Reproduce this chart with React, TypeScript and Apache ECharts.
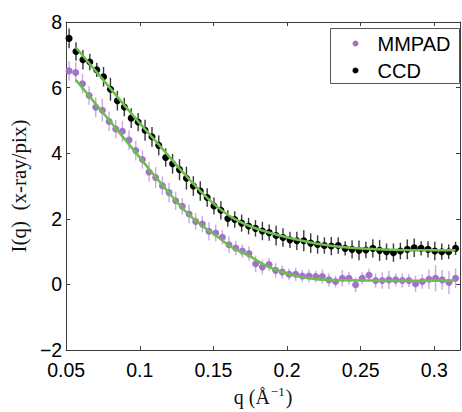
import React, { useEffect, useRef } from "react";
import * as echarts from "echarts";

// CCD data
const qCCD = [
  0.0520, 0.0567, 0.0614, 0.0661, 0.0708, 0.0754, 0.0801, 0.0848, 0.0895, 0.0942,
  0.0989, 0.1036, 0.1083, 0.1129, 0.1176, 0.1223, 0.1270, 0.1317, 0.1364, 0.1411,
  0.1458, 0.1504, 0.1551, 0.1598, 0.1645, 0.1692, 0.1739, 0.1786, 0.1833, 0.1879,
  0.1926, 0.1973, 0.2020, 0.2067, 0.2114, 0.2161, 0.2208, 0.2254, 0.2301, 0.2348,
  0.2395, 0.2442, 0.2489, 0.2536, 0.2583, 0.2629, 0.2676, 0.2723, 0.2770, 0.2817,
  0.2864, 0.2911, 0.2958, 0.3004, 0.3051, 0.3098, 0.3145,
];
const iCCD = [
  7.50, 7.10, 6.85, 6.78, 6.54, 6.33, 5.95, 5.60, 5.41, 5.07,
  4.95, 4.70, 4.50, 4.24, 3.87, 3.68, 3.50, 3.24, 3.00, 2.85,
  2.65, 2.39, 2.26, 2.01, 1.98, 1.87, 1.78, 1.71, 1.63, 1.58,
  1.49, 1.43, 1.36, 1.33, 1.33, 1.26, 1.22, 1.19, 1.17, 1.19,
  1.10, 1.07, 1.04, 1.05, 1.10, 1.04, 1.00, 0.97, 1.02, 1.07,
  1.12, 1.10, 1.07, 1.02, 1.00, 1.00, 1.10,
];
const eCCD = [
  0.30, 0.28, 0.30, 0.25, 0.22, 0.30, 0.35, 0.30, 0.28, 0.30,
  0.28, 0.32, 0.30, 0.30, 0.28, 0.30, 0.32, 0.35, 0.30, 0.30,
  0.28, 0.26, 0.28, 0.25, 0.25, 0.26, 0.25, 0.25, 0.28, 0.25,
  0.30, 0.28, 0.25, 0.28, 0.32, 0.30, 0.28, 0.25, 0.28, 0.25,
  0.22, 0.28, 0.30, 0.25, 0.28, 0.32, 0.25, 0.28, 0.25, 0.30,
  0.28, 0.22, 0.25, 0.28, 0.25, 0.22, 0.20,
];

// MMPAD data
const qMMPAD = [
  0.0520, 0.0565, 0.0611, 0.0656, 0.0701, 0.0746, 0.0792, 0.0837, 0.0882, 0.0927,
  0.0973, 0.1018, 0.1063, 0.1108, 0.1154, 0.1199, 0.1244, 0.1289, 0.1335, 0.1380,
  0.1425, 0.1470, 0.1516, 0.1561, 0.1606, 0.1652, 0.1697, 0.1742, 0.1787, 0.1833,
  0.1878, 0.1923, 0.1968, 0.2014, 0.2059, 0.2104, 0.2149, 0.2195, 0.2240, 0.2285,
  0.2330, 0.2376, 0.2421, 0.2466, 0.2511, 0.2557, 0.2602, 0.2647, 0.2692, 0.2738,
  0.2783, 0.2828, 0.2873, 0.2919, 0.2964, 0.3009, 0.3054, 0.3100, 0.3145,
];
const iMMPAD = [
  6.51, 6.46, 6.12, 5.76, 5.40, 5.31, 4.97, 4.74, 4.67, 4.40,
  4.08, 3.81, 3.43, 3.26, 3.01, 2.80, 2.55, 2.38, 2.15, 1.92,
  1.84, 1.62, 1.57, 1.44, 1.21, 1.11, 1.02, 0.94, 0.63, 0.53,
  0.61, 0.43, 0.38, 0.31, 0.31, 0.26, 0.26, 0.24, 0.24, 0.14,
  0.09, 0.19, 0.19, -0.01, 0.19, 0.28, 0.12, 0.12, 0.14, 0.14,
  0.12, 0.12, 0.02, 0.09, 0.16, 0.19, 0.14, 0.06, 0.19,
];
const eMMPAD = [
  0.30, 0.32, 0.30, 0.28, 0.30, 0.35, 0.30, 0.28, 0.32, 0.30,
  0.30, 0.28, 0.30, 0.32, 0.28, 0.30, 0.28, 0.25, 0.28, 0.25,
  0.25, 0.28, 0.25, 0.22, 0.25, 0.22, 0.20, 0.22, 0.25, 0.22,
  0.20, 0.22, 0.20, 0.18, 0.20, 0.18, 0.20, 0.18, 0.22, 0.20,
  0.18, 0.25, 0.20, 0.22, 0.18, 0.20, 0.22, 0.25, 0.28, 0.20,
  0.22, 0.20, 0.25, 0.22, 0.30, 0.40, 0.30, 0.35, 0.30,
];

// Fitted curves
const qFitCCD = [0.0565, 0.0749, 0.0951, 0.1153, 0.1321, 0.1422, 0.1523, 0.1631, 0.1758, 0.1893, 0.2095, 0.2297, 0.2532, 0.2768, 0.3145];
const iFitCCD = [7.23, 6.25, 5.17, 4.14, 3.28, 2.80, 2.38, 2.03, 1.76, 1.56, 1.34, 1.18, 1.09, 1.05, 1.04];
const qFitMMPAD = [0.0565, 0.0749, 0.0951, 0.1085, 0.1220, 0.1321, 0.1422, 0.1523, 0.1631, 0.1745, 0.1853, 0.1967, 0.2081, 0.2196, 0.2304, 0.2532, 0.2768, 0.3145];
const iFitMMPAD = [6.24, 5.24, 4.14, 3.40, 2.68, 2.18, 1.80, 1.47, 1.12, 0.87, 0.58, 0.38, 0.24, 0.16, 0.14, 0.12, 0.11, 0.12];

const seriesNames = ["MMPAD", "CCD"];
const xMin = 0.05;
const xMax = 0.3175;
const xStep = 0.05;
const yMin = -2;
const yMax = 8;
const yStep = 2;

const PURPLE = "#a274c9";
const PURPLE_ERR = "#c9a8e3";
const BLACK = "#000000";
const BLACK_ERR = "#3a3a3a";
const GREEN = "#6cbf4a";
const SANS = "'Liberation Sans', Arial, Helvetica, sans-serif";
const SERIF = "'Liberation Serif', 'Times New Roman', serif";

function errSeries(q: number[], v: number[], e: number[], color: string) {
  return {
    type: "custom",
    silent: true,
    data: q.map((x, i) => [x, v[i] - e[i], v[i] + e[i]]),
    encode: { x: 0, y: [1, 2] },
    renderItem: (params: any, api: any) => {
      const p1 = api.coord([api.value(0), api.value(1)]);
      const p2 = api.coord([api.value(0), api.value(2)]);
      return {
        type: "line",
        shape: { x1: p1[0], y1: p1[1], x2: p2[0], y2: p2[1] },
        style: { stroke: color, lineWidth: 1.4 },
      };
    },
    z: 1,
  };
}

export default function App() {
  const ref = useRef<HTMLDivElement>(null);
  useEffect(() => {
    document.body.style.margin = "0";
    const chart = echarts.init(ref.current!, null, { renderer: "svg" });
    const fmtX = (v: number) => {
      const r = Math.round(v / xStep);
      if (Math.abs(v - r * xStep) > 1e-6) return "";
      return String(parseFloat(v.toFixed(2)));
    };
    const fmtY = (v: number) => (v < 0 ? "\u2212" + Math.abs(v) : String(v));
    const axisLine = { show: true, onZero: false, lineStyle: { color: "#3c3c3c", width: 1 } };
    const tick = { show: true, inside: true, length: 4, lineStyle: { color: "#3c3c3c" } };
    chart.setOption({
      animation: false,
      backgroundColor: "#ffffff",
      grid: { left: 63, right: 2, top: 22, bottom: 50, containLabel: false },
      xAxis: [
        {
          type: "value",
          min: xMin,
          max: xMax,
          interval: xStep,
          position: "bottom",
          axisLine,
          axisTick: tick,
          splitLine: { show: false },
          axisLabel: {
            formatter: fmtX,
            showMaxLabel: false,
            color: "#000",
            fontSize: 19.5,
            fontFamily: SANS,
            margin: 10,
          },
          name: "{a|q (\u00c5}{s|\u22121}{a|)}",
          nameLocation: "middle",
          nameGap: 32,
          nameTextStyle: {
            rich: {
              a: { fontFamily: SERIF, fontSize: 20, color: "#111", lineHeight: 22, verticalAlign: "bottom" },
              s: { fontFamily: SERIF, fontSize: 13, color: "#111", lineHeight: 22, verticalAlign: "top", padding: [0, 1, 0, 1] },
            },
          },
        },
        {
          type: "value",
          min: xMin,
          max: xMax,
          interval: xStep,
          position: "top",
          axisLine,
          axisTick: tick,
          splitLine: { show: false },
          axisLabel: { show: false },
        },
      ],
      yAxis: [
        {
          type: "value",
          min: yMin,
          max: yMax,
          interval: yStep,
          position: "left",
          axisLine,
          axisTick: tick,
          splitLine: { show: false },
          axisLabel: { formatter: fmtY, color: "#000", fontSize: 19.5, fontFamily: SANS, margin: 4 },
          name: "I(q)  (x-ray/pix)",
          nameLocation: "middle",
          nameGap: 33,
          nameTextStyle: { fontFamily: SERIF, fontSize: 21, color: "#111" },
        },
        {
          type: "value",
          min: yMin,
          max: yMax,
          interval: yStep,
          position: "right",
          axisLine,
          axisTick: tick,
          splitLine: { show: false },
          axisLabel: { show: false },
        },
      ],
      series: [
        errSeries(qMMPAD, iMMPAD, eMMPAD, PURPLE_ERR),
        {
          name: seriesNames[0],
          type: "scatter",
          data: qMMPAD.map((x, i) => [x, iMMPAD[i]]),
          symbol: "circle",
          symbolSize: 7,
          itemStyle: { color: PURPLE, opacity: 1 },
          z: 2,
        },
        errSeries(qCCD, iCCD, eCCD, BLACK_ERR),
        {
          name: seriesNames[1],
          type: "scatter",
          data: qCCD.map((x, i) => [x, iCCD[i]]),
          symbol: "circle",
          symbolSize: 7,
          itemStyle: { color: BLACK, opacity: 1 },
          z: 3,
        },
        {
          type: "line",
          data: qFitMMPAD.map((x, i) => [x, iFitMMPAD[i]]),
          smooth: 0.4,
          showSymbol: false,
          lineStyle: { color: GREEN, width: 2.5 },
          z: 4,
          silent: true,
        },
        {
          type: "line",
          data: qFitCCD.map((x, i) => [x, iFitCCD[i]]),
          smooth: 0.4,
          showSymbol: false,
          lineStyle: { color: GREEN, width: 2.5 },
          z: 4,
          silent: true,
        },
      ],
      graphic: [
        {
          type: "group",
          left: 330,
          top: 28,
          z: 100,
          children: [
            { type: "rect", shape: { x: 0, y: 0, width: 129, height: 55 }, style: { fill: "#fff", stroke: "#555", lineWidth: 1 } },
            { type: "circle", shape: { cx: 25, cy: 15, r: 3 }, style: { fill: PURPLE } },
            { type: "circle", shape: { cx: 25, cy: 42, r: 3 }, style: { fill: BLACK } },
            { type: "text", x: 47, y: 15, style: { text: seriesNames[0], fill: "#000", font: `20px ${SANS}`, verticalAlign: "middle" } },
            { type: "text", x: 47, y: 42, style: { text: seriesNames[1], fill: "#000", font: `20px ${SANS}`, verticalAlign: "middle" } },
          ],
        },
      ],
    });
    return () => chart.dispose();
  }, []);
  return <div ref={ref} style={{ width: 462, height: 412 }} />;
}
